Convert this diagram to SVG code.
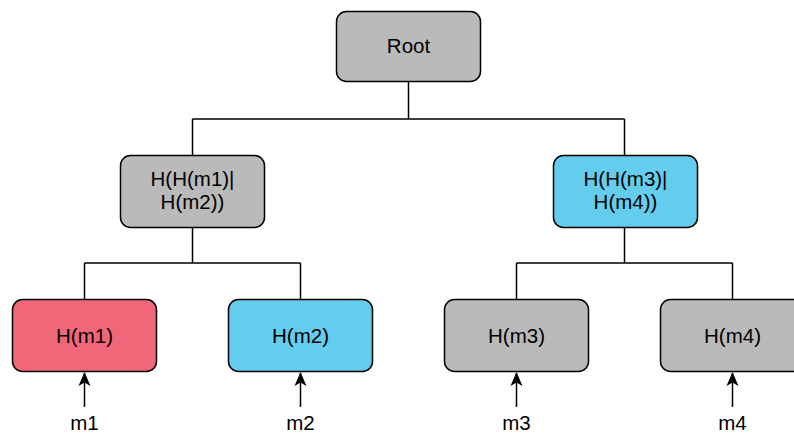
<svg xmlns="http://www.w3.org/2000/svg" width="794" height="433" viewBox="0 0 794 433">
<defs>
<style>
.box{stroke:#000;stroke-width:1.5}
.gray{fill:#bababa}
.red{fill:#f0677a}
.blue{fill:#64ccec}
.lbl{font-family:"Liberation Sans",Arial,sans-serif;font-size:20.5px;fill:#000;text-anchor:middle}
.ln{stroke:#000;stroke-width:1.5;fill:none}
</style>
<marker id="arrow" viewBox="0 0 14 13" refX="13" refY="6.5" markerWidth="14" markerHeight="13" markerUnits="userSpaceOnUse" orient="auto">
<path d="M0,0.5 L14,6.5 L0,12.5 L3.5,6.5 Z" fill="#000"/>
</marker>
</defs>
<rect width="794" height="433" fill="#fff"/>
<g id="connectors">
<path class="ln" d="M408.5,82 V119 M192.5,119 H624.5 M192.5,119 V155 M624.5,119 V155"/>
<path class="ln" d="M192.5,227 V263 M84.5,263 H300.5 M84.5,263 V299 M300.5,263 V299"/>
<path class="ln" d="M624.5,227 V263 M516.5,263 H732.5 M516.5,263 V299 M732.5,263 V299"/>
<path class="ln" d="M84.5,407 V373" marker-end="url(#arrow)"/>
<path class="ln" d="M300.5,407 V373" marker-end="url(#arrow)"/>
<path class="ln" d="M516.5,407 V373" marker-end="url(#arrow)"/>
<path class="ln" d="M732.5,407 V373" marker-end="url(#arrow)"/>
</g>
<g id="root">
<rect class="box gray" x="336.5" y="11.5" width="144" height="70" rx="10"/>
<text class="lbl" x="408.5" y="53">Root</text>
</g>
<g id="h12">
<rect class="box gray" x="120.5" y="155.5" width="144" height="72" rx="10"/>
<text class="lbl" x="192.5" y="185.5">H(H(m1)|</text>
<text class="lbl" x="192.5" y="208.5">H(m2))</text>
</g>
<g id="h34">
<rect class="box blue" x="553.5" y="155.5" width="144" height="72" rx="10"/>
<text class="lbl" x="625.5" y="185.5">H(H(m3)|</text>
<text class="lbl" x="625.5" y="208.5">H(m4))</text>
</g>
<g id="hm1">
<rect class="box red" x="12.5" y="299.5" width="144" height="72" rx="10"/>
<text class="lbl" x="84.5" y="342.5">H(m1)</text>
</g>
<g id="hm2">
<rect class="box blue" x="228.5" y="299.5" width="144" height="72" rx="10"/>
<text class="lbl" x="300.5" y="342.5">H(m2)</text>
</g>
<g id="hm3">
<rect class="box gray" x="444.5" y="299.5" width="144" height="72" rx="10"/>
<text class="lbl" x="516.5" y="342.5">H(m3)</text>
</g>
<g id="hm4">
<rect class="box gray" x="660.5" y="299.5" width="144" height="72" rx="10"/>
<text class="lbl" x="732.5" y="342.5">H(m4)</text>
</g>
<g id="m1"><text class="lbl" x="84.5" y="430">m1</text></g>
<g id="m2"><text class="lbl" x="300.5" y="430">m2</text></g>
<g id="m3"><text class="lbl" x="516.5" y="430">m3</text></g>
<g id="m4"><text class="lbl" x="732.5" y="430">m4</text></g>
</svg>
